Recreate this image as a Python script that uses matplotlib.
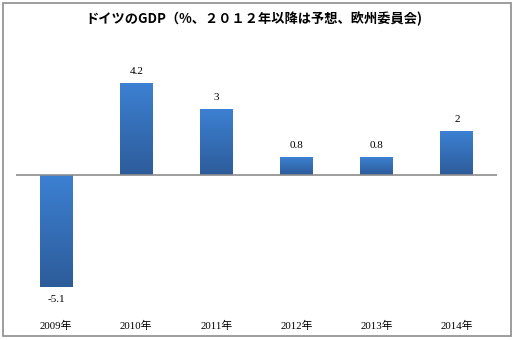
import matplotlib
matplotlib.use("Agg")
import matplotlib.pyplot as plt
import numpy as np
from matplotlib.colors import LinearSegmentedColormap
from matplotlib.patches import Rectangle

categories = ["2009年", "2010年", "2011年", "2012年", "2013年", "2014年"]
values = [-5.1, 4.2, 3, 0.8, 0.8, 2]
value_labels = ["-5.1", "4.2", "3", "0.8", "0.8", "2"]
title = "ドイツのGDP（%、２０１２年以降は予想、欧州委員会)"

fam = ["Liberation Serif", "Noto Sans CJK JP", "DejaVu Sans"]
plt.rcParams["font.family"] = fam

fig = plt.figure(figsize=(5.15, 3.4), dpi=100)
W, H = 515, 340
fig.patches.append(Rectangle((3 / W, 4 / H), 508 / W, 333 / H, transform=fig.transFigure,
                             fill=False, edgecolor="#8c8c8c", linewidth=1.2))

ax = fig.add_axes([16 / W, 40 / H, 481 / W, 240 / H])
ax.set_xlim(-0.5, len(categories) - 0.5)
ax.set_ylim(-5.71, 5.25)
for s in ax.spines.values():
    s.set_visible(False)
ax.set_yticks([])
x = np.arange(len(categories))
ax.set_xticks(x)
ax.set_xticklabels(categories, fontsize=7.8, family=["Liberation Serif", "Noto Sans CJK JP"])
ax.tick_params(axis="x", length=0, pad=15)

cmap = LinearSegmentedColormap.from_list("g", ["#2d5c9a", "#3c80d2"])
grad = np.linspace(0, 1, 100).reshape(-1, 1)
width = 0.41
bars = ax.bar(x, values, width=width, color="none", edgecolor="none")
for b, v in zip(bars, values):
    x0 = b.get_x()
    y0, y1 = min(0, v), max(0, v)
    im = ax.imshow(grad, cmap=cmap, aspect="auto", origin="lower",
                   extent=(x0, x0 + width, y0, y1), zorder=2)
    im.set_clip_path(b)

ax.axhline(0, color="#8c8c8c", linewidth=1.2, zorder=3)

for xi, v, lab in zip(x, values, value_labels):
    if v >= 0:
        ax.annotate(lab, (xi, v), xytext=(0, 8.5), textcoords="offset points",
                    ha="center", va="center", fontsize=8)
    else:
        ax.annotate(lab, (xi, v), xytext=(0, -9.5), textcoords="offset points",
                    ha="center", va="center", fontsize=8)

fig.text(0.492, 1 - 19 / H, title, ha="center", va="center", fontsize=9.5,
         fontweight="bold", family=["Noto Sans CJK JP", "DejaVu Sans"])

fig.savefig("out.png", dpi=100)
